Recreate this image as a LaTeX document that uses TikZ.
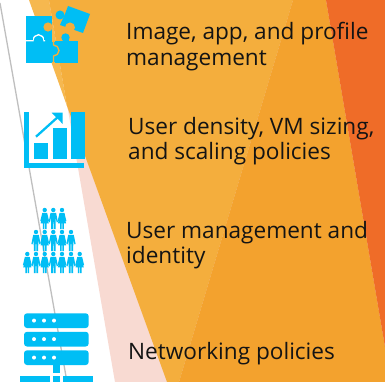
\documentclass[tikz,border=0pt]{standalone}
\usepackage{fontspec}
\setmainfont{Open Sans}
\definecolor{iconblue}{HTML}{00BEF5}
\definecolor{lightor}{HTML}{F6B84F}
\definecolor{midor}{HTML}{F4AE3D}
\definecolor{darkor}{HTML}{F3A22E}
\definecolor{redor}{HTML}{EF6C28}
\definecolor{pinkb}{HTML}{F8DAD2}
\definecolor{greyl}{HTML}{BFBFBF}
\tikzset{
  icon/.style={fill=iconblue,draw=none},
  label/.style={anchor=west,align=left,font=\fontsize{22.6}{25.5}\selectfont,inner sep=0pt,text=black!92},
  manicon/.pic={
    \fill[iconblue] (0,0) circle (2.2);
    \fill[iconblue] (-2.8,2.8) -- (2.8,2.8) -- (4.6,12) -- (3.4,12.3) -- (2.3,7.5) -- (2.2,19) -- (0.45,19) -- (0.25,12) -- (-0.25,12) -- (-0.45,19) -- (-2.2,19) -- (-2.3,7.5) -- (-3.4,12.3) -- (-4.6,12) -- cycle;
  },
  womanicon/.pic={
    \fill[iconblue] (0,0) circle (2.2);
    \fill[iconblue] (-2.4,2.8) -- (2.4,2.8) -- (4.4,11) -- (3.5,11.3) -- (4.1,13.3) -- (1.9,13.3) -- (1.9,19) -- (0.45,19) -- (0.4,13.3) -- (-0.4,13.3) -- (-0.45,19) -- (-1.9,19) -- (-1.9,13.3) -- (-4.1,13.3) -- (-3.5,11.3) -- (-4.4,11) -- cycle;
  }
}
\begin{document}
\begin{tikzpicture}[x=1pt,y=-1pt]
\useasboundingbox (0,0) rectangle (385,382);
\fill[white] (0,0) rectangle (385,382);
\coordinate (ga) at (0,3); \coordinate (gb) at (67,382);
\draw[greyl,line width=1.3] (ga) -- (gb);
\fill[pinkb] (49,0) -- (385,0) -- (385,382) -- (115,382) -- cycle;
\fill[lightor] (29,0) -- (49,0) -- (67,106) -- cycle;
\fill[midor] (49,0) -- (293,0) -- (179,382) -- (167,382) -- (67,106) -- cycle;
\fill[darkor] (293,0) -- (326,0) -- (385,347) -- (385,382) -- (179,382) -- cycle;
\fill[redor] (326,0) -- (385,0) -- (385,347) -- cycle;
% puzzle
\fill[icon] (26,16) rectangle (52,63);
\fill[midor] (48,27) circle (4.6);
\fill[icon] (55,41) rectangle (78,63);
\fill[icon] (65.5,37.5) circle (4.2);
\fill[icon] (62.5,37.5) rectangle (68.5,42);
\fill[icon] (52,42) rectangle (57,62);
\draw[midor,line width=1.4] (53.5,41) -- (53.5,45) (53.5,45) arc (-90:90:5.5 and 5.5) (53.5,56) -- (53.5,63);
\draw[white,line width=1.3] (26,40.7) -- (33,40.7) arc (180:360:5.5 and 6) -- (45,40.7);
\fill[icon] (26,36) rectangle (33,40);
\fill[icon] (44,36) rectangle (52,40);
\fill[icon] (68,6) -- (90,14) -- (83,33) -- (60,25) -- (65,14) -- cycle;
\fill[icon] (60,15) circle (4.5);
\fill[midor] (70,27.5) circle (5);
\fill[midor] (66,28) rectangle (74,33);
% chart
\fill[icon] (24.3,112.3) rectangle (29.3,167.7);
\fill[icon] (24.3,162.7) rectangle (84.3,167.7);
\fill[icon] (34,142.7) rectangle (48,158.7);
\fill[icon] (53.3,128) rectangle (67.3,158.7);
\fill[icon] (71,112) rectangle (85,158.7);
\draw[iconblue,line width=2.3] (36,136.7) -- (59,116);
\fill[icon] (51.7,112.7) -- (62.7,112.7) -- (62.7,124) -- cycle;
% people
\foreach \x/\k in {44.7/womanicon,53.3/manicon,62/womanicon} \path (\x,210) pic {\k};
\foreach \x/\k in {36/manicon,44.7/womanicon,53.3/manicon,62/womanicon,71/manicon} \path (\x,232) pic {\k};
\foreach \x/\k in {27.3/womanicon,36/manicon,44.7/womanicon,53.3/manicon,62/womanicon,71/manicon,79.7/womanicon} \path (\x,254) pic {\k};
% server
\foreach \y in {313.3,331.8,350.3}{
  \fill[icon,rounded corners=3] (24,\y) rectangle (88.7,\y+14.7);
  \foreach \x in {34,44,54} \fill[white] (\x,\y+7.3) circle (2);
}
\fill[icon] (53,365) rectangle (60,373);
\fill[icon] (20,376) rectangle (50,382);
\fill[icon] (53,376) rectangle (60,382);
\fill[icon] (63,376) rectangle (93,382);
% text
\node[label] (t1) at (126,46.5) {Image, app, and profile\\management};
\node[label] (t2) at (128,141) {User density, VM sizing,\\and scaling policies};
\node[label] (t3) at (126,245) {User management and\\identity};
\node[label] (t4) at (128,354) {Networking policies};
\end{tikzpicture}
\end{document}
